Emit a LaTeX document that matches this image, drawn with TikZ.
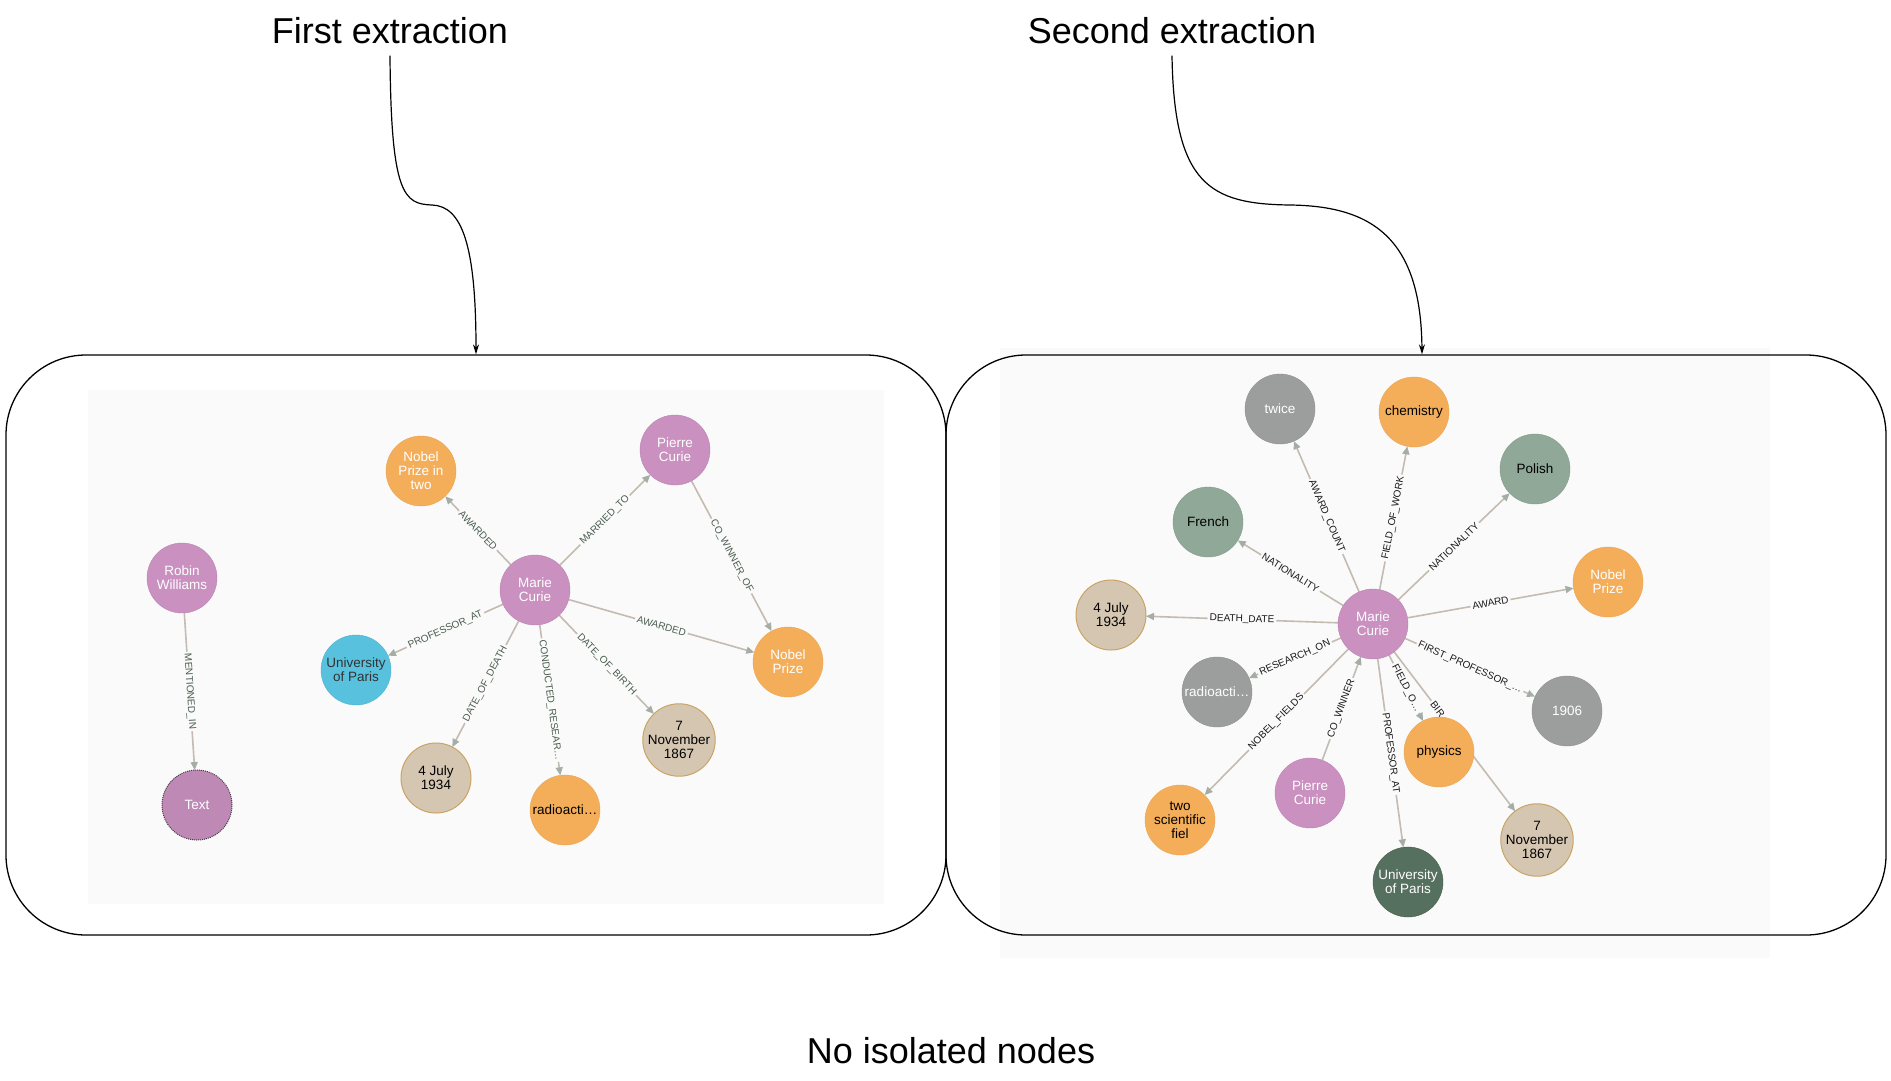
\documentclass[tikz,border=0pt]{standalone}
\usepackage{fontspec}
\setmainfont{Liberation Sans}
\usetikzlibrary{arrows.meta}

\pgfdeclarelayer{panel}
\pgfdeclarelayer{edges}
\pgfsetlayers{panel,edges,main}

\definecolor{mcpurple}{HTML}{C990C0}
\definecolor{mcorange}{HTML}{F4AE59}
\definecolor{mccyan}{HTML}{57C1DE}
\definecolor{mctan}{HTML}{D5C6B2}
\definecolor{mctanline}{HTML}{C9A466}
\definecolor{mcsage}{HTML}{90A898}
\definecolor{mcgray}{HTML}{9C9D9D}
\definecolor{mcpine}{HTML}{56705F}
\definecolor{edgeline}{HTML}{C4BBB1}
\definecolor{edgetip}{HTML}{A4AEA6}
\definecolor{lbltext}{HTML}{4B5C4E}
\definecolor{panelbg}{HTML}{FAFAFA}

\tikzset{
	gnode/.style={circle,minimum size=70pt,inner sep=0pt,outer sep=0pt,align=center,font=\fontsize{13.5}{14}\selectfont,text=black},
	purplenode/.style={gnode,fill=mcpurple,draw=mcpurple!92!black,text=white},
	orangenode/.style={gnode,fill=mcorange,draw=mcorange!95!black},
	cyannode/.style={gnode,fill=mccyan,draw=mccyan!92!black,text=black!80},
	tannode/.style={gnode,fill=mctan,draw=mctanline,line width=1pt},
	sagenode/.style={gnode,fill=mcsage,draw=mcsage!92!black},
	graynode/.style={gnode,fill=mcgray,draw=mcgray!92!black,text=white},
	pinenode/.style={gnode,fill=mcpine,draw=mcpine!80!black,text=white},
	rel/.style={draw=edgeline,line width=1.6pt,-{Triangle[length=8pt,width=7pt,color=edgetip]}},
	rellabel/.style={sloped,fill=panelbg,inner sep=2pt,font=\fontsize{10}{10}\selectfont,text=lbltext},
	rellabelb/.style={rellabel,text=black!90},
	panelbox/.style={draw=black,line width=1.3pt,rounded corners=80pt,minimum width=940pt,minimum height=580pt},
	headline/.style={font=\fontsize{36}{40}\selectfont,inner sep=0pt},
	flow/.style={draw=black,line width=1.2pt,-{Stealth[length=10pt,width=6pt]}}
}

\begin{document}
\begin{tikzpicture}[x=1pt,y=-1pt]
	\useasboundingbox (0,0) rectangle (1891,1080);

	% screenshot areas
	\begin{pgfonlayer}{panel}
		\fill[panelbg] (88,390) rectangle (884,904);
		\fill[panelbg] (1000,348) rectangle (1770,958);
	\end{pgfonlayer}

	\node[panelbox] (box1) at (476,645) {};
	\node[panelbox] (box2) at (1416,645) {};

	\node[headline,anchor=base] (first) at (390,43) {First extraction};
	\node[headline,anchor=base] (second) at (1172,43) {Second extraction};
	\node[headline,anchor=base] (isolated) at (951,1063) {No isolated nodes};

	\draw[flow] ([yshift=-12pt]first.south) .. controls (391,195) and (404,204) .. (432,205) .. controls (462,206) and (476,245) .. (box1.north);
	\draw[flow] ([yshift=-12pt]second.south) .. controls (1174,185) and (1210,204) .. (1290,205) .. controls (1372,206) and (1421,238) .. ([xshift=6pt]box2.north);

	% first extraction
	\node[purplenode] (rw) at (182,578) {Robin\\Williams};
	\node[purplenode,fill=mcpurple!95!black,draw=black!75,densely dotted,line width=1pt] (txt) at (197,805) {Text};
	\node[orangenode,text=white] (npt) at (421,471) {Nobel\\Prize in\\two};
	\node[purplenode] (pc1) at (675,450) {Pierre\\Curie};
	\node[purplenode] (mc1) at (535,590) {Marie\\Curie};
	\node[cyannode] (up1) at (356,670) {University\\of Paris};
	\node[orangenode,text=white] (np1) at (788,662) {Nobel\\Prize};
	\node[tannode] (bn1) at (679,740) {7\\November\\1867};
	\node[tannode] (dj1) at (436,778) {4 July\\1934};
	\node[orangenode] (ra1) at (565,810) {radioacti…};

	\begin{pgfonlayer}{edges}
		\draw[rel] (rw) -- node[rellabel] {MENTIONED\_IN} (txt);
		\draw[rel] (mc1) -- node[rellabel] {AWARDED} (npt);
		\draw[rel] (mc1) -- node[rellabel] {MARRIED\_TO} (pc1);
		\draw[rel] (pc1) -- node[rellabel] {CO\_WINNER\_OF} (np1);
		\draw[rel] (mc1) -- node[rellabel] {AWARDED} (np1);
		\draw[rel] (mc1) -- node[rellabel] {PROFESSOR\_AT} (up1);
		\draw[rel] (mc1) -- node[rellabel] {DATE\_OF\_DEATH} (dj1);
		\draw[rel] (mc1) -- node[rellabel] {CONDUCTED\_RESEAR…} (ra1);
		\draw[rel] (mc1) -- node[rellabel] {DATE\_OF\_BIRTH} (bn1);
	\end{pgfonlayer}

	% second extraction
	\node[graynode] (tw) at (1280,409) {twice};
	\node[orangenode] (ch) at (1414,412) {chemistry};
	\node[sagenode] (po) at (1535,469) {Polish};
	\node[sagenode] (fr) at (1208,522) {French};
	\node[orangenode,text=white] (np2) at (1608,582) {Nobel\\Prize};
	\node[tannode] (dj2) at (1111,615) {4 July\\1934};
	\node[purplenode] (mc2) at (1373,624) {Marie\\Curie};
	\node[graynode] (ra2) at (1217,692) {radioacti…};
	\node[graynode] (yr) at (1567,711) {1906};
	\node[orangenode] (ph) at (1439,752) {physics};
	\node[purplenode] (pc2) at (1310,793) {Pierre\\Curie};
	\node[orangenode] (ts) at (1180,820) {two\\scientific\\fiel};
	\node[tannode] (bn2) at (1537,840) {7\\November\\1867};
	\node[pinenode] (up2) at (1408,882) {University\\of Paris};

	\begin{pgfonlayer}{edges}
		\draw[rel] (mc2) -- node[rellabelb] {AWARD\_COUNT} (tw);
		\draw[rel] (mc2) -- node[rellabelb] {FIELD\_OF\_WORK} (ch);
		\draw[rel] (mc2) -- node[rellabelb] {NATIONALITY} (po);
		\draw[rel] (mc2) -- node[rellabelb] {NATIONALITY} (fr);
		\draw[rel] (mc2) -- node[rellabelb] {AWARD} (np2);
		\draw[rel] (mc2) -- node[rellabelb] {DEATH\_DATE} (dj2);
		\draw[rel] (mc2) -- node[rellabelb] {RESEARCH\_ON} (ra2);
		\draw[rel] (mc2) -- node[rellabelb] {FIRST\_PROFESSOR\_…} (yr);
		\draw[rel] (mc2) -- node[rellabelb] {FIELD\_O…} (ph);
		\draw[rel] (mc2) -- node[rellabelb,pos=0.36] {BIR} (bn2);
		\draw[rel] (pc2) -- node[rellabelb] {CO\_WINNER} (mc2);
		\draw[rel] (mc2) -- node[rellabelb] {NOBEL\_FIELDS} (ts);
		\draw[rel] (mc2) -- node[rellabelb] {PROFESSOR\_AT} (up2);
	\end{pgfonlayer}
\end{tikzpicture}
\end{document}
